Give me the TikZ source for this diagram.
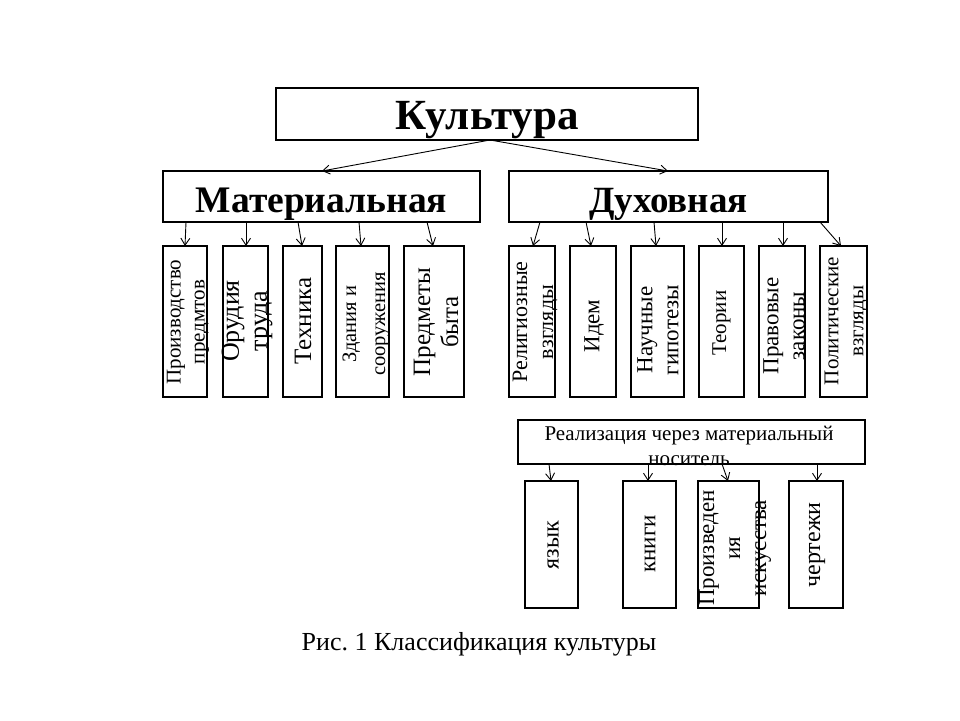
\documentclass[tikz,border=0pt]{standalone}
\usepackage{fontspec}
\setmainfont{Liberation Serif}
\usetikzlibrary{arrows.meta}
\newcommand\fsz[2]{\fontsize{#1}{#2}\selectfont}
\frenchspacing
\begin{document}
\begin{tikzpicture}[x=1pt,y=-1pt,
  box/.style={draw, line width=2.2pt, inner sep=0pt, outer sep=0pt},
  head/.style={text height=31pt, text depth=0pt},
  arr/.style={-{Straight Barb[length=7pt,width=9pt]}, line width=0.9pt},
  vt/.style={rotate=90, align=center, inner sep=0pt}]
\useasboundingbox[fill=white] (0,0) rectangle (960,720);

% top level
\node[box, head, minimum width=422, minimum height=52, font=\bfseries\fsz{43}{48}] (cult) at (487,114) {Культура};
\node[box, head, minimum width=317, minimum height=51, font=\bfseries\fsz{37.5}{42}] (mat) at (321.5,196.5) {Материальная};
\node[box, head, minimum width=319, minimum height=51, font=\bfseries\fsz{37}{42}] (dukh) at (668.5,196.5) {Духовная};

% material boxes
\node[box, minimum width=44, minimum height=151] (m1) at (185,321.5) {};
\node[box, minimum width=45, minimum height=151] (m2) at (245.5,321.5) {};
\node[box, minimum width=39, minimum height=151] (m3) at (302.5,321.5) {};
\node[box, minimum width=53, minimum height=151] (m4) at (362.5,321.5) {};
\node[box, minimum width=60, minimum height=151] (m5) at (434,321.5) {};

\node[vt, font=\fsz{21}{24}] (m1t) at (188,322) {Производство\\предмтов};
\node[vt, font=\fsz{26}{28}] (m2t) at (247,321) {Орудия\\труда};
\node[vt, font=\fsz{25}{28}] (m3t) at (303,321) {Техника};
\node[vt, font=\fsz{20.5}{29}] (m4t) at (366,324) {Здания и\\сооружения};
\node[vt, font=\fsz{25}{28}] (m5t) at (436,322) {Предметы\\быта};

% spiritual boxes
\node[box, minimum width=46, minimum height=151] (d1) at (532,321.5) {};
\node[box, minimum width=46, minimum height=151] (d2) at (593,321.5) {};
\node[box, minimum width=53, minimum height=151] (d3) at (657.5,321.5) {};
\node[box, minimum width=45, minimum height=151] (d4) at (721.5,321.5) {};
\node[box, minimum width=46, minimum height=151] (d5) at (782,321.5) {};
\node[box, minimum width=47, minimum height=151] (d6) at (843.5,321.5) {};

\node[vt, font=\fsz{22}{26}] (d1t) at (535,322) {Религиозные\\взгляды};
\node[vt, font=\fsz{23}{26}] (d2t) at (594,326) {Идем};
\node[vt, font=\fsz{23}{26}] (d3t) at (658,330) {Научные\\гипотезы};
\node[vt, font=\fsz{21}{26}] (d4t) at (721.5,323) {Теории};
\node[vt, font=\fsz{23}{26}] (d5t) at (784,326) {Правовые\\законы};
\node[vt, font=\fsz{21}{25}] (d6t) at (846,321) {Политические\\взгляды};

% realisation
\node[box, minimum width=347, minimum height=44] (real) at (691.5,442) {};
\node[align=center, inner sep=0pt, font=\fsz{21}{25}] (realt) at (689,446) {Реализация через материальный\\носитель};

\node[box, minimum width=53, minimum height=127] (r1) at (551.5,544.5) {};
\node[box, minimum width=53, minimum height=127] (r2) at (649.5,544.5) {};
\node[box, minimum width=61, minimum height=127] (r3) at (728.5,544.5) {};
\node[box, minimum width=54, minimum height=127] (r4) at (816,544.5) {};

\node[vt, font=\fsz{24}{26}] (r1t) at (553,545) {язык};
\node[vt, font=\fsz{23}{26}] (r2t) at (650,544) {книги};
\node[vt, font=\fsz{23}{26}] (r3t) at (735,548) {Произведен\\ия\\искусства};
\node[vt, font=\fsz{24}{26}] (r4t) at (817,545) {чертежи};

% caption
\node[font=\fsz{26}{30}, inner sep=0pt] (cap) at (479,644) {Рис. 1 Классификация культуры};

% arrows
\draw[arr] (cult.south -| 490,0) -- (mat.north -| 322,0);
\draw[arr] (cult.south -| 490,0) -- (dukh.north -| 668,0);

\draw[arr] (mat.south -| 186,0) -- (m1.north -| 185,0);
\draw[arr] (mat.south -| 246,0) -- (m2.north -| 246,0);
\draw[arr] (mat.south -| 298,0) -- (m3.north -| 302,0);
\draw[arr] (mat.south -| 359,0) -- (m4.north -| 361,0);
\draw[arr] (mat.south -| 427,0) -- (m5.north -| 433,0);

\draw[arr] (dukh.south -| 540,0) -- (d1.north -| 533,0);
\draw[arr] (dukh.south -| 586,0) -- (d2.north -| 591,0);
\draw[arr] (dukh.south -| 654,0) -- (d3.north -| 656,0);
\draw[arr] (dukh.south -| 722,0) -- (d4.north -| 722,0);
\draw[arr] (dukh.south -| 783,0) -- (d5.north -| 783,0);
\draw[arr] (dukh.south -| 820,0) -- (d6.north -| 841,0);

\draw[arr] (real.south -| 549,0) -- (r1.north -| 551,0);
\draw[arr] (real.south -| 648,0) -- (r2.north -| 648,0);
\draw[arr] (real.south -| 722,0) -- (r3.north -| 728,0);
\draw[arr] (real.south -| 817,0) -- (r4.north -| 817,0);
\end{tikzpicture}
\end{document}
